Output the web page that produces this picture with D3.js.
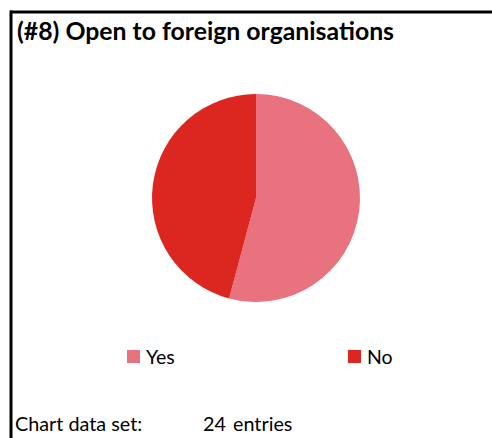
<!DOCTYPE html>
<html>
<head>
<meta charset="utf-8">
<script src="https://cdn.jsdelivr.net/npm/d3@7"></script>
<style>
  body { margin: 0; background: #fff; }
  svg { display: block; font-family: Lato, "Open Sans", sans-serif; }
</style>
</head>
<body>
<svg id="chart" width="492" height="438"></svg>
<script>
// Chart data
const categories = ["Yes", "No"];
const counts = [13, 11];
const colors = ["#E8737F", "#DC2720"];
const totalEntries = 24;

const svg = d3.select("#chart");

// Frame: top and left borders
svg.append("line").attr("x1", 10).attr("x2", 492).attr("y1", 12).attr("y2", 12)
    .attr("stroke", "#000").attr("stroke-width", 3);
svg.append("line").attr("x1", 11).attr("x2", 11).attr("y1", 10.5).attr("y2", 438)
    .attr("stroke", "#000").attr("stroke-width", 3);

// Title
svg.append("text").attr("x", 17).attr("y", 40)
    .attr("font-size", 24.8).attr("font-weight", "bold")
    .text("(#8) Open to foreign organisations");

// Pie
const cx = 256, cy = 198, radius = 104;
const pie = d3.pie().sort(null).value(d => d);
const arc = d3.arc().innerRadius(0).outerRadius(radius);
const color = d3.scaleOrdinal().domain(categories).range(colors);

svg.append("g").attr("transform", `translate(${cx},${cy})`)
    .selectAll("path")
    .data(pie(counts))
    .enter().append("path")
    .attr("d", arc)
    .attr("fill", (d, i) => color(categories[i]));

// Legend
const legendX = d3.scalePoint().domain(categories).range([127, 348]);
const legend = svg.append("g").selectAll("g")
    .data(categories)
    .enter().append("g")
    .attr("transform", d => `translate(${legendX(d)},350)`);
legend.append("rect").attr("width", 13).attr("height", 13).attr("fill", d => color(d));
legend.append("text").attr("x", 19).attr("y", 14)
    .attr("font-size", 19.5).text(d => d);

// Footer
svg.append("text").attr("x", 15).attr("y", 431).attr("font-size", 19.8)
    .text("Chart data set:");
svg.append("text").attr("x", 203).attr("y", 431).attr("font-size", 19.8)
    .text(totalEntries);
svg.append("text").attr("x", 233).attr("y", 431).attr("font-size", 19.8)
    .text("entries");
</script>
</body>
</html>
